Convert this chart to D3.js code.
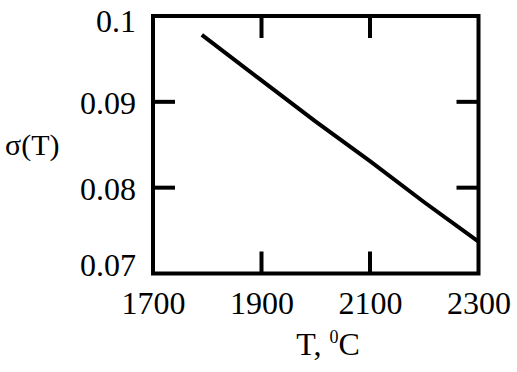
<!DOCTYPE html>
<html>
<head>
<meta charset="utf-8">
<script src="https://cdn.jsdelivr.net/npm/d3@7"></script>
<style>
  html, body { margin: 0; padding: 0; background: #fff; }
  svg { display: block; }
  svg text { font-family: "Liberation Serif", "Times New Roman", serif !important; fill: #000; }
</style>
</head>
<body>
<svg id="chart" width="517" height="372"></svg>
<script>
// Data
const temperature = [1790, 1900, 2000, 2100, 2200, 2300];
const sigma = [0.0978, 0.0925, 0.0877, 0.0831, 0.0783, 0.0737];
const xTicks = [1700, 1900, 2100, 2300];
const yTicks = [0.07, 0.08, 0.09, 0.1];
const yTickLabels = ["0.07", "0.08", "0.09", "0.1"];
const xTitle = "T, ";
const xTitleSup = "0";
const xTitleEnd = "C";
const yTitle = "σ(T)";

const W = 517, H = 372;
const margin = {left: 153, right: 38.5, top: 16, bottom: 98.5};
const pw = W - margin.left - margin.right;
const ph = H - margin.top - margin.bottom;
const FONT = "'Liberation Serif', 'Times New Roman', serif";

const svg = d3.select("#chart");
const g = svg.append("g").attr("transform", `translate(${margin.left},${margin.top})`);

const x = d3.scaleLinear().domain([1700, 2300]).range([0, pw]);
const y = d3.scaleLinear().domain([0.07, 0.1]).range([ph, 0]);

const innerX = xTicks.filter(v => v !== 1700 && v !== 2300);
const innerY = yTicks.filter(v => v !== 0.07 && v !== 0.1);
const TL = 22, SW = 4;

// Bottom axis (labels)
const bottom = g.append("g").attr("transform", `translate(0,${ph})`)
  .call(d3.axisBottom(x).tickValues(xTicks).tickSize(0).tickPadding(18).tickFormat(d3.format("d")));
bottom.attr("font-family", FONT).attr("font-size", 32);
bottom.select(".domain").remove();
bottom.selectAll("text").attr("font-family", FONT).attr("font-size", 32);

// Left axis labels
const left = g.append("g")
  .call(d3.axisLeft(y).tickValues(yTicks).tickSize(0).tickPadding(17)
    .tickFormat((d, i) => yTickLabels[i]));
left.attr("font-family", FONT).attr("font-size", 32);
left.select(".domain").remove();
left.selectAll(".tick").attr("transform", d => {
  const yy = Math.max(6, Math.min(ph - 7.5, y(d) + 2));
  return `translate(0,${yy})`;
});
left.selectAll("text").attr("font-family", FONT).attr("font-size", 32);

// Inward ticks on all sides
const tickG = g.append("g").attr("stroke", "#000").attr("stroke-width", SW);
innerX.forEach(v => {
  tickG.append("line").attr("x1", x(v)).attr("x2", x(v)).attr("y1", ph).attr("y2", ph - TL);
  tickG.append("line").attr("x1", x(v)).attr("x2", x(v)).attr("y1", 0).attr("y2", TL);
});
innerY.forEach(v => {
  tickG.append("line").attr("x1", 0).attr("x2", TL).attr("y1", y(v)).attr("y2", y(v));
  tickG.append("line").attr("x1", pw).attr("x2", pw - TL).attr("y1", y(v)).attr("y2", y(v));
});

// Frame
g.append("rect").attr("x", 0).attr("y", 0).attr("width", pw).attr("height", ph)
  .attr("fill", "none").attr("stroke", "#000").attr("stroke-width", SW);

// Data line
const data = temperature.map((t, i) => ({t, s: sigma[i]}));
g.append("path").datum(data)
  .attr("fill", "none").attr("stroke", "#000").attr("stroke-width", 4)
  .attr("d", d3.line().x(d => x(d.t)).y(d => y(d.s)));

// Axis titles
const xt = svg.append("text").attr("x", 328).attr("y", 355)
  .attr("text-anchor", "middle").attr("font-size", 32).attr("font-family", FONT);
xt.append("tspan").text(xTitle);
xt.append("tspan").attr("font-size", 18).attr("dy", -12).text(xTitleSup);
xt.append("tspan").attr("dy", 12).text(xTitleEnd);

svg.append("text").attr("x", 5).attr("y", 155).attr("font-size", 30)
  .attr("font-family", FONT).text(yTitle);
</script>
</body>
</html>
